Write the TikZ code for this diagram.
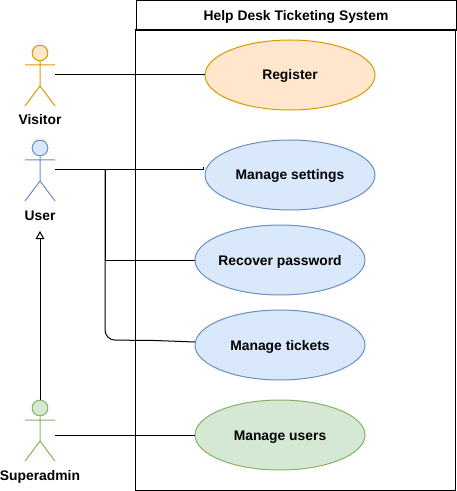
\documentclass[tikz,border=0pt]{standalone}
\usepackage{fontspec}
\setmainfont{Liberation Sans}
\usetikzlibrary{shapes.geometric,arrows.meta}
\definecolor{orF}{HTML}{FFE6CC}\definecolor{orD}{HTML}{D79B00}
\definecolor{blF}{HTML}{DAE8FC}\definecolor{blD}{HTML}{6C8EBF}
\definecolor{grF}{HTML}{D5E8D4}\definecolor{grD}{HTML}{82B366}
\tikzset{
 labelfont/.style={font=\bfseries\fontsize{10.4}{12}\selectfont,text=black,text height=7.5pt,text depth=0pt},
 usecase/.style={ellipse,draw=#1D,fill=#1F,line width=0.75pt,minimum width=127.5pt,minimum height=52.5pt,inner sep=-12pt,labelfont},
 actorlabel/.style={labelfont,inner sep=0pt},
 head/.style={circle,draw=#1D,fill=#1F,line width=0.75pt,minimum size=11.75pt,inner sep=0pt},
 limb/.style={draw=#1D,line width=0.75pt},
 link/.style={draw=black,line width=0.75pt},
 frame/.style={draw=black,line width=0.75pt,fill=white},
 gen/.style={draw=black,line width=0.75pt,-{Triangle[open,length=6pt,width=6.5pt,fill=white]}},
}
\newcommand{\actorfig}[5]{% name, head y, colour, label, port offset
 \node[head=#3] (#1h) at (40,#2) {};
 \coordinate (#1a) at (40,#2+12);
 \coordinate (#1b) at (40,#2+33);
 \coordinate (#1l) at (25,#2+12);
 \coordinate (#1r) at (55,#2+12);
 \coordinate (#1fl) at (25,#2+53);
 \coordinate (#1fr) at (55,#2+53);
 \coordinate (#1p) at (55,#2+#5);
 \draw[limb=#3] (#1h) -- (#1b) (#1l) -- (#1r) (#1fl) -- (#1b) -- (#1fr);
 \node[actorlabel] (#1t) at (40,#2+67) {#4};
}
\begin{document}
\begin{tikzpicture}[x=0.75pt,y=-0.75pt]
\useasboundingbox (0,0) rectangle (456,491);
\node[frame,labelfont,minimum width=240pt,minimum height=22.125pt,inner sep=0pt,anchor=north west] (title) at (135.5,0.5) {Help Desk Ticketing System};
\coordinate (boxnw) at (135.5,30);
\coordinate (boxse) at (455.5,490);
\draw[frame,fill=none] (boxnw) rectangle (boxse);
\actorfig{vis}{53}{or}{Visitor}{22}
\actorfig{usr}{148}{bl}{User}{22}
\actorfig{sup}{408}{gr}{Superadmin}{27}
\node[usecase=or] (reg) at (290,75) {Register};
\node[usecase=bl] (set) at (290,175) {Manage settings};
\node[usecase=bl] (rec) at (280,260) {Recover password};
\node[usecase=bl] (tic) at (280,345) {Manage tickets};
\node[usecase=gr] (man) at (280,435) {Manage users};
\coordinate (j) at (105,170);
\coordinate (setin) at (203.5,170);
\coordinate (settick) at (203.5,167);
\coordinate (jrec) at (105,260);
\coordinate (tica) at (105,340);
\coordinate (ticb) at (155,340.5);
\coordinate (ticin) at (195,342);
\coordinate (gentip) at (40,231);
\draw[link] (visp) -- (reg.west);
\draw[link] (usrp) -- (setin) -- (settick);
\draw[link] (j) -- (jrec) -- (rec.west);
\draw[link,rounded corners=7.5pt] (j) -- (tica) -- (ticb);
\draw[link] (ticb) -- (ticin);
\draw[link] (supp) -- (man.west);
\draw[gen] (suph) -- (gentip);
\end{tikzpicture}
\end{document}
